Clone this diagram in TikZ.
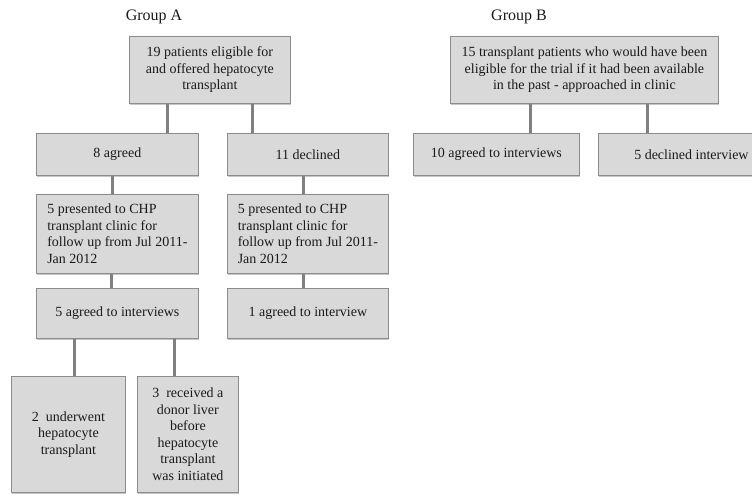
\documentclass[tikz,border=0pt]{standalone}
\usepackage{fontspec}
\usetikzlibrary{shadows}
\setmainfont{Liberation Serif}
\definecolor{boxfill}{HTML}{D9D9D9}
\definecolor{boxline}{HTML}{8C8C8C}
\definecolor{linkgray}{HTML}{808080}
\definecolor{ink}{HTML}{1A1A1A}
\tikzset{
  box/.style={draw=boxline,fill=boxfill,line width=.8pt,anchor=north west,inner sep=0pt,
    font=\fontsize{14}{16.5}\selectfont,text=ink,align=center,
    drop shadow={shadow xshift=.5pt,shadow yshift=-1.3pt,fill=black,opacity=.22}},
  leftbox/.style={box,align=left},
  link/.style={draw=linkgray,line width=3pt},
  grouplabel/.style={font=\fontsize{16}{19}\selectfont,text=ink}
}
\begin{document}
\begin{tikzpicture}[x=1pt,y=-1pt]
\useasboundingbox (0,0) rectangle (752,502);
\clip (0,0) rectangle (752,502);
% group titles
\node[grouplabel] (groupA) at (154,17) {Group A};
\node[grouplabel] (groupB) at (519,17) {Group B};
% ---- group A: offered the transplant
\node[box,minimum width=161pt,minimum height=67pt] (topA) at (129,36)
  {19 patients eligible for\\and offered hepatocyte\\transplant};
\node[box,minimum width=162pt,minimum height=42pt] (agreedA) at (36,133) {8 agreed};
\node[box,minimum width=161pt,minimum height=42pt] (declinedA) at (227,133) {11 declined};
\node[leftbox,minimum width=162pt,minimum height=79pt] (clinicA) at (36,194)
  {5 presented to CHP\\transplant clinic for\\follow up from Jul 2011-\\Jan 2012};
\node[leftbox,minimum width=161pt,minimum height=79pt] (clinicD) at (227,194)
  {5 presented to CHP\\transplant clinic for\\follow up from Jul 2011-\\Jan 2012};
\node[box,minimum width=162pt,minimum height=50pt] (interviewA) at (36,288) {5 agreed to interviews};
\node[box,minimum width=161pt,minimum height=50pt] (interviewD) at (227,288) {1 agreed to interview};
\node[box,minimum width=114pt,minimum height=116pt] (underwent) at (11,376)
  {2\ \ underwent\\hepatocyte\\transplant};
\node[box,minimum width=101pt,minimum height=116pt] (received) at (137,376)
  {3\ \ received a\\donor liver\\before\\hepatocyte\\transplant\\was initiated};
% ---- group B: past patients seen in clinic
\node[box,minimum width=268pt,minimum height=67pt] (topB) at (450,36)
  {15 transplant patients who would have been\\eligible for the trial if it had been available\\in the past - approached in clinic};
\node[box,minimum width=166pt,minimum height=42pt] (agreedB) at (413,133) {10 agreed to interviews};
\node[box,minimum width=186pt,minimum height=42pt] (declinedB) at (598,133) {5 declined interview};
% connectors, each dropped straight down at its own column
\foreach \a/\b/\x in {topA/agreedA/167,topA/declinedA/252,agreedA/clinicA/112,
  declinedA/clinicD/303,clinicA/interviewA/111,clinicD/interviewD/303,
  interviewA/underwent/74,interviewA/received/174,topB/agreedB/530,topB/declinedB/647}{
  \coordinate (col) at (\x,0);
  \draw[link] (\a.south -| col) -- (\b.north -| col);
}
\end{tikzpicture}
\end{document}
